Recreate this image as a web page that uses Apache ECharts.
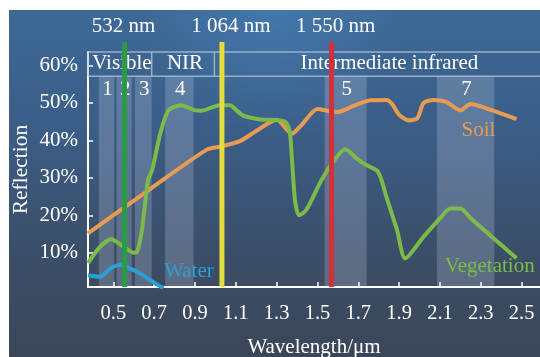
<!DOCTYPE html>
<html>
<head>
<meta charset="utf-8">
<script src="https://cdn.jsdelivr.net/npm/echarts@6/dist/echarts.min.js"></script>
<style>
    html, body { margin: 0; padding: 0; background: #fff; }
    #chart { position: absolute; left: 9px; top: 10px; width: 531px; height: 347px; }
</style>
</head>
<body>
<div id="chart"></div>
<script>
    // axis ticks
    const xTicks = [0.5, 0.7, 0.9, 1.1, 1.3, 1.5, 1.7, 1.9, 2.1, 2.3, 2.5];
    const yTicks = [10, 20, 30, 40, 50, 60];

    // reflection curves (wavelength in µm, reflection in %)
    const soilWave = [0.376, 0.67, 0.96, 1.03, 1.12, 1.2, 1.3, 1.375, 1.42, 1.5, 1.56, 1.6, 1.68, 1.76, 1.84, 1.87, 1.9, 1.95, 1.99, 2.02, 2.07, 2.13, 2.2, 2.25, 2.33, 2.475];
    const soilRefl = [15.2, 26.6, 37.6, 38.4, 39.8, 42.5, 45.5, 41.8, 44.0, 48.4, 47.8, 47.6, 49.3, 50.7, 50.8, 49.4, 46.8, 45.3, 46.0, 50.0, 50.8, 50.3, 48.0, 49.7, 48.5, 45.7];

    const vegWave = [0.376, 0.435, 0.49, 0.55, 0.6, 0.617, 0.64, 0.67, 0.69, 0.73, 0.77, 0.83, 0.9, 0.93, 1.02, 1.07, 1.12, 1.14, 1.22, 1.31, 1.345, 1.365, 1.375, 1.39, 1.41, 1.445, 1.52, 1.58, 1.635, 1.7, 1.74, 1.79, 1.81, 1.84, 1.89, 1.93, 2.02, 2.1, 2.15, 2.2, 2.25, 2.345, 2.475];
    const vegRefl = [7.2, 11.6, 13.6, 11.6, 10.0, 10.3, 16, 29.4, 32, 41.8, 48, 49.4, 48, 47.9, 49.4, 49.4, 47.2, 46.5, 45.6, 45.4, 44.8, 42, 35, 24, 20, 21.4, 29.4, 34.5, 37.6, 34.8, 33.4, 32, 30, 24.5, 16, 8.5, 14.3, 19.2, 21.8, 21.8, 19.2, 14.7, 8.5];

    const waterWave = [0.376, 0.435, 0.485, 0.535, 0.58, 0.63, 0.68, 0.745];
    const waterRefl = [4.0, 3.6, 5.8, 6.7, 5.8, 4.5, 2.7, 0.5];

    // landsat bands
    const bandNames = ['1', '2', '3', '4', '5', '7'];
    const bandStart = [0.429, 0.516, 0.606, 0.754, 1.535, 2.085];
    const bandEnd = [0.504, 0.59, 0.688, 0.893, 1.741, 2.366];

    // spectral regions
    const regionNames = ['Visible', 'NIR', 'Intermediate infrared'];
    const regionEdges = [0.376, 0.688, 0.995, 2.69];

    // laser wavelengths
    const laserNames = ['532 nm', '1 064 nm', '1 550 nm'];
    const laserPos = [0.555, 1.032, 1.569];
    const laserColors = ['#2a9a44', '#e6dc3c', '#d4303a'];

    const serif = '"Liberation Serif", "Times New Roman", serif';
    const xMin = 0.376, xMax = 2.59;
    const yMin = 0.85, yMax = 63.6;
    const headerBottom = 57.1;

    const zip = (a, b) => a.map((v, i) => [v, b[i]]);

    const curveNames = [
        { name: 'Water', color: '#2b9fd6', at: [0.749, 4.9] },
        { name: 'Soil', color: '#e89c52', at: [2.206, 42.7] },
        { name: 'Vegetation', color: '#7cba4a', at: [2.124, 6.3] }
    ];
    const laserLabelShift = [-1, 9, 4];

    const chart = echarts.init(document.getElementById('chart'));

    const option = {
        backgroundColor: {
            type: 'linear', x: 0, y: 0, x2: 0, y2: 1,
            colorStops: [
                { offset: 0, color: '#3d6997' },
                { offset: 0.35, color: '#3b5d86' },
                { offset: 0.7, color: '#3b4e68' },
                { offset: 1, color: '#3b4658' }
            ]
        },
        animation: false,
        graphic: [{
            type: 'rect', z: -1, silent: true,
            shape: { x: 0, y: 0, width: 531, height: 220 },
            style: {
                fill: {
                    type: 'radial', x: 0.5, y: 0, r: 0.6,
                    colorStops: [
                        { offset: 0, color: 'rgba(80,145,210,0.35)' },
                        { offset: 1, color: 'rgba(80,145,210,0)' }
                    ]
                }
            }
        }],
        grid: { left: 79, top: 42, right: 0, bottom: 70, outerBoundsMode: 'none' },
        xAxis: {
            type: 'value', min: xMin, max: xMax,
            name: 'Wavelength/μm', nameLocation: 'middle', nameGap: 50, nameMoveOverlap: false,
            nameTextStyle: { color: '#fff', fontSize: 21, fontFamily: serif },
            axisLine: { lineStyle: { color: '#fff', width: 2 } },
            axisTick: { inside: true, length: 5, customValues: xTicks, lineStyle: { color: '#fff', width: 1.5 } },
            axisLabel: {
                customValues: xTicks, margin: 16, color: '#fff', fontSize: 20.5, fontFamily: serif,
                formatter: v => v.toFixed(1)
            },
            splitLine: { show: false }
        },
        yAxis: {
            type: 'value', min: yMin, max: yMax,
            name: 'Reflection', nameLocation: 'middle', nameGap: 56, nameMoveOverlap: false,
            nameTextStyle: { color: '#fff', fontSize: 21.5, fontFamily: serif },
            axisLine: { show: true, lineStyle: { color: '#fff', width: 2 } },
            axisTick: { show: true, inside: true, length: 5, customValues: yTicks, lineStyle: { color: '#fff', width: 1.5 } },
            axisLabel: {
                customValues: yTicks, margin: 10, color: '#fff', fontSize: 21, fontFamily: serif,
                formatter: v => Math.round(v) + '%'
            },
            splitLine: { show: false }
        },
        series: [
            {
                name: 'bands', type: 'custom', z: 1, silent: true,
                data: bandStart.map((s, i) => [s, bandEnd[i]]),
                renderItem(params, api) {
                    const s = api.value(0), e = api.value(1);
                    const p0 = api.coord([s, headerBottom]);
                    const p1 = api.coord([e, yMin]);
                    const c = api.coord([(s + e) / 2, 53.5]);
                    return {
                        type: 'group', children: [
                            { type: 'rect', shape: { x: p0[0], y: p0[1], width: p1[0] - p0[0], height: p1[1] - p0[1] },
                              style: { fill: 'rgba(215,225,240,0.22)' } },
                            { type: 'text', x: c[0] + 1, y: c[1],
                              style: { text: bandNames[params.dataIndex], fill: '#fff', fontSize: 21, fontFamily: serif, align: 'center', verticalAlign: 'middle' } }
                        ]
                    };
                }
            },
            {
                name: 'regions', type: 'custom', z: 1, silent: true,
                data: regionNames.map((n, i) => [regionEdges[i], regionEdges[i + 1]]),
                renderItem(params, api) {
                    const s = api.value(0), e = api.value(1);
                    const tl = api.coord([s, yMax]);
                    const br = api.coord([e, headerBottom]);
                    const c = api.coord([(s + e) / 2, 60.4]);
                    const ls = { stroke: 'rgba(175,195,215,0.8)', lineWidth: 1.5 };
                    return {
                        type: 'group', children: [
                            { type: 'line', shape: { x1: tl[0], y1: tl[1], x2: br[0], y2: tl[1] }, style: ls },
                            { type: 'line', shape: { x1: tl[0], y1: br[1], x2: br[0], y2: br[1] }, style: ls },
                            { type: 'line', shape: { x1: tl[0], y1: tl[1], x2: tl[0], y2: br[1] }, style: ls },
                            { type: 'text', x: c[0] + 2, y: c[1],
                              style: { text: regionNames[params.dataIndex], fill: '#fff', fontSize: 21, fontFamily: serif, align: 'center', verticalAlign: 'middle' } }
                        ]
                    };
                }
            },
            {
                name: 'Soil', type: 'line', z: 3, smooth: 0.25, showSymbol: false,
                data: zip(soilWave, soilRefl),
                lineStyle: { color: '#e89c52', width: 4 }
            },
            {
                name: 'Vegetation', type: 'line', z: 3, smooth: 0.25, showSymbol: false,
                data: zip(vegWave, vegRefl),
                lineStyle: { color: '#7cba4a', width: 4 }
            },
            {
                name: 'Water', type: 'line', z: 3, smooth: 0.25, showSymbol: false,
                data: zip(waterWave, waterRefl),
                lineStyle: { color: '#2b9fd6', width: 4 }
            },
            {
                name: 'curveNames', type: 'custom', z: 4, silent: true,
                data: curveNames.map(c => c.at),
                renderItem(params, api) {
                    const c = curveNames[params.dataIndex];
                    const p = api.coord([api.value(0), api.value(1)]);
                    return { type: 'text', x: p[0], y: p[1],
                             style: { text: c.name, fill: c.color, fontSize: 21, fontFamily: serif, align: 'left', verticalAlign: 'middle' } };
                }
            },
            {
                name: 'lasers', type: 'custom', z: 5, silent: true,
                data: laserPos.map(v => [v, yMin]),
                renderItem(params, api) {
                    const x = api.value(0);
                    const b = api.coord([x, yMin]);
                    const t = api.coord([x, 66.3]);
                    const l = api.coord([x, 70.4]);
                    return {
                        type: 'group', children: [
                            { type: 'line', shape: { x1: b[0], y1: b[1], x2: t[0], y2: t[1] },
                              style: { stroke: laserColors[params.dataIndex], lineWidth: 5 } },
                            { type: 'text', x: l[0] + laserLabelShift[params.dataIndex], y: l[1],
                              style: { text: laserNames[params.dataIndex], fill: '#fff', fontSize: 21, fontFamily: serif, align: 'center', verticalAlign: 'middle' } }
                        ]
                    };
                }
            }
        ]
    };

    chart.setOption(option);
</script>
</body>
</html>
